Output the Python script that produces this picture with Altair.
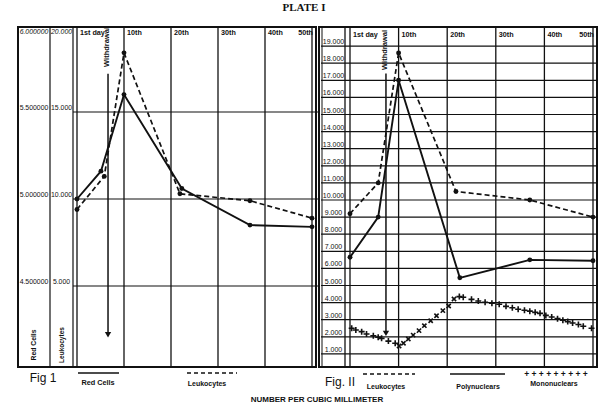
import altair as alt
import pandas as pd

# ---------------- data ----------------
day_ticks = [0, 10, 20, 30, 40, 50]
day_labels = ["1st day", "10th", "20th", "30th", "40th", "50th"]

# Fig I
f1_red_days = [0, 5.1, 10, 22.3, 36.8, 50]
f1_red_cells = [5000000, 5160000, 5600000, 5060000, 4850000, 4840000]
f1_leuko_days = [0, 5.8, 10, 21.9, 36.8, 50]
f1_leuko = [9400, 11300, 18400, 10300, 9900, 8900]
f1_red_ticks = [6000000, 5500000, 5000000, 4500000]
f1_red_tick_labels = ["6.000000", "5.500000", "5.000000", "4.500000"]
f1_leuko_ticks = [20000, 15000, 10000, 5000]
f1_leuko_tick_labels = ["20.000", "15.000", "10.000", "5.000"]
f1_withdrawal_day = 6.6
f1_arrow = [17200, 2200]

# Fig II
f2_leuko_days = [0, 5.8, 10, 21.8, 37, 50]
f2_leuko = [9200, 11000, 18600, 10500, 10000, 9000]
f2_poly_days = [0, 5.8, 10, 22.6, 37, 50]
f2_poly = [6650, 9000, 17000, 5450, 6500, 6450]
f2_mono_days = [0.35, 1.2, 2.4, 3.4, 4.8, 5.8, 6.5, 7.9, 9.3, 10.1, 11.0, 12.0, 13.0,
                14.2, 15.3, 16.6, 17.8, 19.1, 20.3, 21.4, 22.5, 23.3, 25.0, 26.4, 27.8,
                29.2, 30.7, 32.1, 33.4, 34.6, 35.9, 37.0, 38.1, 39.1, 40.3, 41.5, 42.7,
                43.8, 44.8, 45.8, 47.0, 48.0, 49.7]
f2_mono = [2500, 2400, 2300, 2160, 2060, 1970, 1910, 1750, 1620, 1460, 1620, 1870, 2100,
           2360, 2650, 2940, 3230, 3530, 3800, 4210, 4350, 4310, 4190, 4090, 4020,
           3960, 3900, 3780, 3700, 3610, 3550, 3500, 3430, 3370, 3250, 3160, 3060,
           2970, 2890, 2810, 2720, 2620, 2500]
f2_mono_mark = ["+"] * 9 + ["x"] * 11 + ["+"] * 23
f2_ticks = list(range(1000, 20000, 1000))
f2_tick_labels = [f"{v // 1000}.000" for v in f2_ticks]
f2_withdrawal_day = 7.4
f2_arrow = [17400, 2200]

# ---------------- styling ----------------
SANS = "Liberation Sans, Arial, Helvetica, sans-serif"
SERIF = "Liberation Serif, DejaVu Serif, serif"
INK = "#111111"

X1 = alt.Scale(domain=[0, 50], range=[77, 312], nice=False, zero=False)
Y1 = alt.Scale(domain=[0, 20000], range=[373, 25], nice=False, zero=False)
YR = alt.Scale(domain=[4000000, 6000000], range=[373, 25], nice=False, zero=False)
X2 = alt.Scale(domain=[0, 50], range=[350, 593], nice=False, zero=False)
Y2 = alt.Scale(domain=[0, 20000], range=[371, 29], nice=False, zero=False)

ONE = alt.Data(values=[{"k": 1}])
CROSS = "M-1,0L1,0M0,-1L0,1"

layers = []


def text(t, x, y, size=7, weight="bold", font=SANS, angle=0, align="center",
         baseline="middle", style="normal"):
    return alt.Chart(ONE).mark_text(
        text=t, fontSize=size, fontWeight=weight, font=font, angle=angle,
        align=align, baseline=baseline, color=INK, fontStyle=style
    ).encode(x=alt.value(x), y=alt.value(y))


def vrule(x, y0, y1, w=1.2):
    return alt.Chart(ONE).mark_rule(color=INK, strokeWidth=w).encode(
        x=alt.value(x), y=alt.value(y0), y2=alt.value(y1))


def hrule(y, x0, x1, w=1.2, dash=None):
    kw = dict(color=INK, strokeWidth=w)
    if dash:
        kw["strokeDash"] = dash
    return alt.Chart(ONE).mark_rule(**kw).encode(
        y=alt.value(y), x=alt.value(x0), x2=alt.value(x1))


def frame(x0, x1, y0, y1, w=2):
    return alt.Chart(ONE).mark_rect(fillOpacity=0, stroke=INK, strokeWidth=w).encode(
        x=alt.value(x0), x2=alt.value(x1), y=alt.value(y0), y2=alt.value(y1))


def series(days, vals, xs, ys, dashed=False, width=1.7):
    df = pd.DataFrame({"day": days, "v": vals})
    kw = dict(color=INK, strokeWidth=width)
    if dashed:
        kw["strokeDash"] = [5, 3]
    enc = dict(x=alt.X("day:Q", scale=xs, axis=None), y=alt.Y("v:Q", scale=ys, axis=None))
    line = alt.Chart(df).mark_line(**kw).encode(**enc)
    pts = alt.Chart(df).mark_point(filled=True, color=INK, size=24, opacity=1).encode(**enc)
    return [line, pts]


def day_grid(xs, y0, y1, label_y):
    df = pd.DataFrame({"day": day_ticks, "lab": day_labels})
    rules = alt.Chart(df).mark_rule(color=INK, strokeWidth=1.3).encode(
        x=alt.X("day:Q", scale=xs, axis=None), y=alt.value(y0), y2=alt.value(y1))
    labs = alt.Chart(df).transform_filter("datum.day < 50").mark_text(
        font=SANS, fontSize=7.2, fontWeight="bold", align="left", dx=3,
        baseline="middle", color=INK).encode(
        x=alt.X("day:Q", scale=xs, axis=None), y=alt.value(label_y), text="lab:N")
    last = alt.Chart(df).transform_filter("datum.day >= 50").mark_text(
        font=SANS, fontSize=7.2, fontWeight="bold", align="right", dx=1,
        baseline="middle", color=INK).encode(
        x=alt.X("day:Q", scale=xs, axis=None), y=alt.value(label_y), text="lab:N")
    return [rules, labs, last]


def withdrawal(day, arrow, xs, ys, label_y):
    df = pd.DataFrame({"day": [day], "top": [arrow[0]], "bot": [arrow[1]]})
    x = alt.X("day:Q", scale=xs, axis=None)
    shaft = alt.Chart(df).mark_rule(color=INK, strokeWidth=1.5).encode(
        x=x, y=alt.Y("top:Q", scale=ys, axis=None), y2="bot:Q")
    head = alt.Chart(df).mark_point(shape="triangle-down", filled=True, color=INK,
                                    size=40, opacity=1).encode(
        x=x, y=alt.Y("bot:Q", scale=ys, axis=None))
    lab = alt.Chart(df).mark_text(text="Withdrawal", angle=270, font=SANS,
                                  fontSize=7.5, fontWeight="bold", color=INK,
                                  baseline="middle", align="center").encode(
        x=x, y=alt.value(label_y), xOffset=alt.value(-1))
    return [shaft, head, lab]


# ---------------- Fig I ----------------
layers.append(frame(18, 316, 27, 367))
layers += [vrule(50, 27, 367), vrule(73, 27, 367)]
df_g1 = pd.DataFrame({"v": f1_leuko_ticks[1:]})
layers.append(alt.Chart(df_g1).mark_rule(color=INK, strokeWidth=1.2).encode(
    y=alt.Y("v:Q", scale=Y1, axis=None), x=alt.value(73), x2=alt.value(319)))
layers += day_grid(X1, 27, 367, 33)

df_rt = pd.DataFrame({"v": f1_red_ticks, "lab": f1_red_tick_labels})
layers.append(alt.Chart(df_rt).transform_filter("datum.v < 6000000").mark_text(
    font=SANS, fontSize=6.9, baseline="bottom", dy=-1, color=INK).encode(
    y=alt.Y("v:Q", scale=YR, axis=None), x=alt.value(34), text="lab:N"))
layers.append(alt.Chart(df_rt).transform_filter("datum.v >= 6000000").mark_text(
    font=SANS, fontSize=6.9, fontStyle="italic", baseline="top", dy=4, color=INK).encode(
    y=alt.Y("v:Q", scale=YR, axis=None), x=alt.value(34), text="lab:N"))
df_lt = pd.DataFrame({"v": f1_leuko_ticks, "lab": f1_leuko_tick_labels})
layers.append(alt.Chart(df_lt).transform_filter("datum.v < 20000").mark_text(
    font=SANS, fontSize=6.9, baseline="bottom", dy=-1, color=INK).encode(
    y=alt.Y("v:Q", scale=Y1, axis=None), x=alt.value(61.5), text="lab:N"))
layers.append(alt.Chart(df_lt).transform_filter("datum.v >= 20000").mark_text(
    font=SANS, fontSize=6.9, fontStyle="italic", baseline="top", dy=4, color=INK).encode(
    y=alt.Y("v:Q", scale=Y1, axis=None), x=alt.value(61.5), text="lab:N"))
layers.append(text("Red Cells", 34, 345, size=6.8, angle=270))
layers.append(text("Leukocytes", 61.5, 345, size=6.5, angle=270))

layers += series(f1_red_days, f1_red_cells, X1, YR, dashed=False, width=1.9)
layers += series(f1_leuko_days, f1_leuko, X1, Y1, dashed=True, width=1.7)
layers += withdrawal(f1_withdrawal_day, f1_arrow, X1, Y1, 47)

# legend Fig I
layers.append(text("Fig 1", 43, 378, size=12, weight="normal"))
layers.append(hrule(373, 78, 119, w=1.4))
layers.append(text("Red Cells", 98, 383, size=7.3))
layers.append(hrule(373, 187, 237, w=1.4, dash=[4, 3]))
layers.append(text("Leukocytes", 207, 384, size=7))

# ---------------- Fig II ----------------
layers.append(frame(319, 597, 27, 367))
layers += [vrule(322, 27, 367, w=1.0), vrule(345, 27, 367, w=1.3)]
df_g2 = pd.DataFrame({"v": f2_ticks, "lab": f2_tick_labels})
layers.append(alt.Chart(df_g2).mark_rule(color=INK, strokeWidth=1.2).encode(
    y=alt.Y("v:Q", scale=Y2, axis=None), x=alt.value(321), x2=alt.value(597)))
layers += day_grid(X2, 27, 367, 35)
layers.append(alt.Chart(df_g2).mark_text(
    font=SANS, fontSize=7, baseline="bottom", dy=-1, color=INK).encode(
    y=alt.Y("v:Q", scale=Y2, axis=None), x=alt.value(333.5), text="lab:N"))

layers += series(f2_poly_days, f2_poly, X2, Y2, dashed=False, width=1.9)
layers += series(f2_leuko_days, f2_leuko, X2, Y2, dashed=True, width=1.7)
df_mono = pd.DataFrame({"day": f2_mono_days, "v": f2_mono, "m": f2_mono_mark})
df_mono["tilt"] = [45 if m == "x" else 0 for m in f2_mono_mark]
layers.append(alt.Chart(df_mono).mark_point(
    shape=CROSS, filled=False, stroke=INK, strokeWidth=1.6, size=36, opacity=1).encode(
    x=alt.X("day:Q", scale=X2, axis=None), y=alt.Y("v:Q", scale=Y2, axis=None),
    angle=alt.Angle("tilt:Q", scale=None)))
layers += withdrawal(f2_withdrawal_day, f2_arrow, X2, Y2, 50)

# legend Fig II
layers.append(text("Fig. II", 340, 382, size=12, weight="normal"))
layers.append(hrule(374, 363, 415, w=1.4, dash=[4, 3]))
layers.append(text("Leukocytes", 386, 387, size=7))
layers.append(hrule(374, 450, 505, w=1.4))
layers.append(text("Polynuclears", 478, 387, size=7))
layers.append(text("+ + + + + + + + +", 556, 374, size=8.5))
layers.append(text("Mononuclears", 554, 384, size=7))

# ---------------- titles ----------------
layers.append(text("PLATE I", 304, 8, size=11, font=SERIF))
layers.append(text("NUMBER PER CUBIC MILLIMETER", 317, 400, size=8, font=SANS))

chart = alt.layer(*layers).resolve_scale(x="independent", y="independent").properties(
    width=610, height=416, padding=0, autosize=alt.AutoSizeParams(type="none"),
    background="white"
).configure_view(stroke=None)

chart.save("out.html", embed_options={"renderer": "svg", "actions": False})
